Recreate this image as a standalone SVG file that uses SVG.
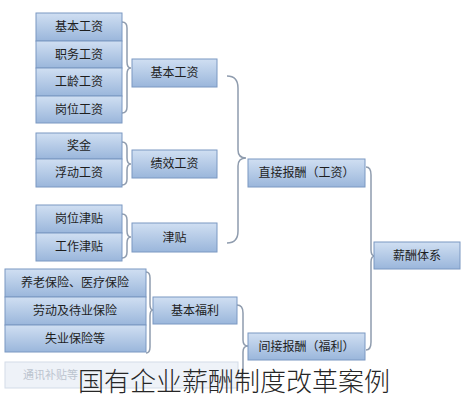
<svg xmlns="http://www.w3.org/2000/svg" width="464" height="400" viewBox="0 0 464 400">
<style>
.bx{fill:url(#gb);stroke:#7b98c2;stroke-width:1}
.t{font-family:"Noto Sans CJK SC","Noto Sans",sans-serif;font-size:12px;fill:#1e1e1e;text-anchor:middle}
.br{fill:none;stroke:#8f9cae;stroke-width:1.5}
.fd{fill:#eef2f8;stroke:#d3dce8;stroke-width:1}
.ft{font-family:"Noto Sans CJK SC","Noto Sans",sans-serif;font-size:11px;fill:#bcc4cf}
.cap{font-family:"Noto Sans CJK SC","Noto Sans",sans-serif;font-size:26px;font-weight:300;fill:#262626;text-anchor:middle}
</style>
<defs>
<linearGradient id="gb" x1="0" y1="0" x2="0" y2="1">
<stop offset="0" stop-color="#d0dff2"/>
<stop offset="1" stop-color="#9ab6db"/>
</linearGradient>
</defs>
<rect width="464" height="400" fill="#ffffff"/>
<g id="connectors">
<path class="br" d="M122,22 Q127,22 127,28 L127,62 Q127,68 131,68 Q127,68 127,74 L127,107 Q127,113 122,113"/>
<path class="br" d="M122,142 Q127,142 127,148 L127,158 Q127,164 131,164 Q127,164 127,170 L127,179 Q127,185 122,185"/>
<path class="br" d="M122,214 Q127,214 127,220 L127,231 Q127,237 131,237 Q127,237 127,243 L127,252 Q127,258 122,258"/>
<path class="br" d="M146,272 Q150,272 150,278 L150,304 Q150,310 153,310 Q150,310 150,316 L150,347 Q150,353 146,353"/>
<path class="br" d="M227,76 Q238,76 238,88 L238,150 Q238,158 246,158 Q238,158 238,166 L238,231 Q238,243 227,243"/>
<path class="br" d="M366,167 Q371,167 371,175 L371,250 Q371,256 375,256 Q371,256 371,262 L371,342 Q371,350 366,350"/>
<path class="br" d="M237,305 Q243,305 243,313 L243,340 Q243,346 248,346 Q243,346 243,352 L243,370 Q243,378 238,378"/>
</g>
<g id="n-jbgz1"><rect class="bx" x="36" y="13" width="86" height="28"/><text class="t" x="79" y="31">基本工资</text></g>
<g id="n-zwgz"><rect class="bx" x="36" y="41" width="86" height="27"/><text class="t" x="79" y="58.5">职务工资</text></g>
<g id="n-glgz"><rect class="bx" x="36" y="68" width="86" height="28"/><text class="t" x="79" y="86">工龄工资</text></g>
<g id="n-gwgz"><rect class="bx" x="36" y="96" width="86" height="27"/><text class="t" x="79" y="113.5">岗位工资</text></g>
<g id="n-jj"><rect class="bx" x="36" y="133" width="86" height="26"/><text class="t" x="79" y="150">奖金</text></g>
<g id="n-fdgz"><rect class="bx" x="36" y="159" width="86" height="28"/><text class="t" x="79" y="177">浮动工资</text></g>
<g id="n-gwjt"><rect class="bx" x="36" y="205" width="86" height="28"/><text class="t" x="79" y="223">岗位津贴</text></g>
<g id="n-gzjt"><rect class="bx" x="36" y="233" width="86" height="28"/><text class="t" x="79" y="251">工作津贴</text></g>
<g id="n-ylbx"><rect class="bx" x="5" y="269" width="141" height="28"/><text class="t" x="75" y="287">养老保险、医疗保险</text></g>
<g id="n-ldbx"><rect class="bx" x="5" y="297" width="141" height="28"/><text class="t" x="75" y="315">劳动及待业保险</text></g>
<g id="n-sybx"><rect class="bx" x="5" y="325" width="141" height="27"/><text class="t" x="75" y="342.5">失业保险等</text></g>
<g id="n-other"><rect class="fd" x="5" y="362" width="233" height="26"/><text class="ft" x="23" y="379">通讯补贴等</text></g>
<g id="n-jbgz"><rect class="bx" x="132" y="59" width="85" height="28"/><text class="t" x="174.5" y="77">基本工资</text></g>
<g id="n-jxgz"><rect class="bx" x="132" y="150" width="85" height="28"/><text class="t" x="174.5" y="168">绩效工资</text></g>
<g id="n-jt"><rect class="bx" x="132" y="223" width="85" height="29"/><text class="t" x="174.5" y="241.5">津贴</text></g>
<g id="n-jbfl"><rect class="bx" x="153" y="297" width="84" height="27"/><text class="t" x="195" y="314.5">基本福利</text></g>
<g id="n-zjbc"><rect class="bx" x="248" y="159" width="117" height="28"/><text class="t" x="306.5" y="177">直接报酬（工资）</text></g>
<g id="n-jjbc"><rect class="bx" x="248" y="333" width="117" height="27"/><text class="t" x="306.5" y="350.5">间接报酬（福利）</text></g>
<g id="n-xctx"><rect class="bx" x="374" y="242" width="86" height="27"/><text class="t" x="417" y="259.5">薪酬体系</text></g>
<text class="cap" x="234" y="391">国有企业薪酬制度改革案例</text>
</svg>
